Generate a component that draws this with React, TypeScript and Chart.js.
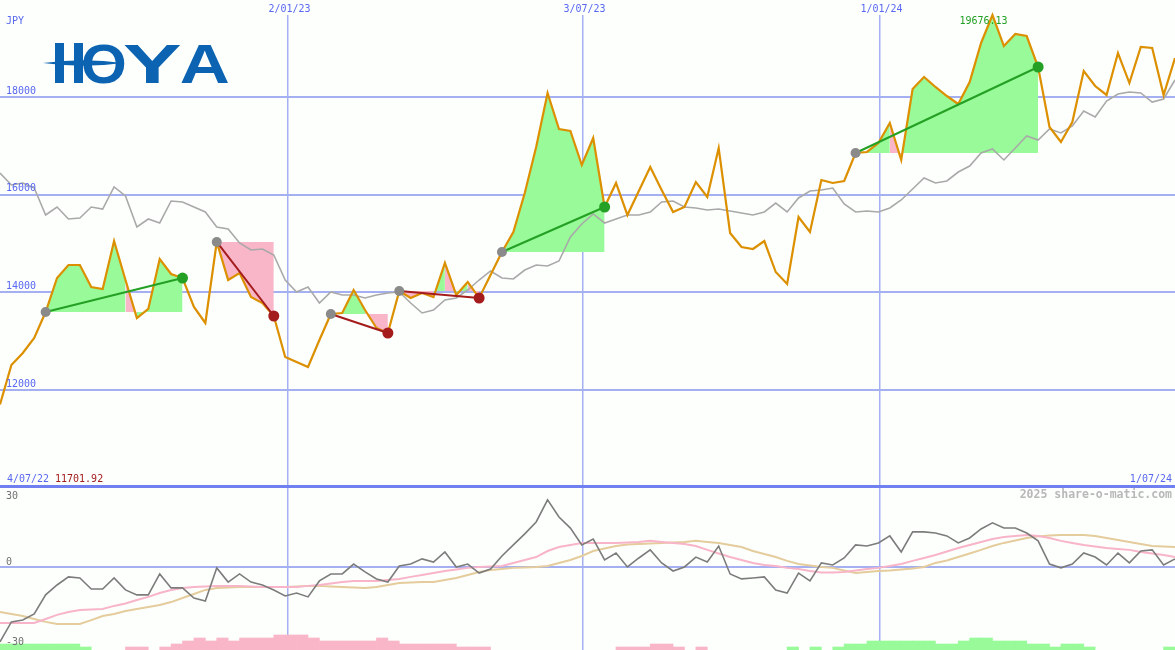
import React, { useEffect, useRef } from 'react';
import { Chart, registerables } from 'chart.js';

Chart.register(...registerables);

// ---------- data ----------
const priceValues = [
  11701.92, 12512, 12758, 13065, 13597, 14293, 14560, 14560, 14109, 14068,
  15051, 14252, 13474, 13659, 14683, 14376, 14293, 13700, 13372, 15031,
  14252, 14396, 13904, 13781, 13515, 12676, 12573, 12471, 13024, 13556,
  13577, 14048, 13638, 13270, 13167, 14027, 13884, 13986, 13904, 14601,
  13945, 14212, 13884, 14355, 14826, 15235, 16034, 16976, 18082, 17345,
  17304, 16607, 17160, 15747, 16239, 15583, 16075, 16566, 16095, 15645,
  15747, 16259, 15952, 16955, 15215, 14928, 14887, 15051, 14416, 14171,
  15543, 15235, 16300, 16239, 16280, 16853, 16874, 17058, 17467, 16710,
  18164, 18409, 18205, 18020, 17856, 18307, 19106, 19676.13, 19044, 19290,
  19249, 18614, 17385, 17078, 17488, 18532, 18225, 18041, 18901, 18286,
  19024, 19003, 18041, 18798,
];

const averageValues = [
  16444, 16198, 16239, 16136, 15583, 15747, 15502, 15522, 15747, 15706,
  16157, 15973, 15338, 15502, 15420, 15870, 15850, 15747, 15645, 15338,
  15297, 15010, 14867, 14887, 14764, 14252, 14007, 14109, 13781, 14007,
  13945, 13945, 13884, 13945, 13986, 14007, 13781, 13577, 13638, 13843,
  13884, 14048, 14252, 14437, 14293, 14273, 14457, 14560, 14539, 14642,
  15133, 15399, 15604, 15420, 15502, 15583, 15583, 15645, 15850, 15870,
  15747, 15727, 15686, 15706, 15665, 15624, 15583, 15645, 15829, 15645,
  15932, 16075, 16095, 16136, 15809, 15645, 15665, 15645, 15727, 15891,
  16116, 16341, 16239, 16280, 16464, 16587, 16853, 16935, 16710, 16955,
  17201, 17119, 17344, 17263, 17406, 17713, 17590, 17918, 18061, 18102,
  18082, 17897, 17959, 18348,
];

const momentumValues = [
  -33.3, -24.4, -23.6, -20.9, -12.4, -8.0, -4.4, -4.9, -9.8, -9.8,
  -4.9, -10.2, -12.4, -12.4, -3.1, -9.3, -9.3, -13.8, -15.1, -0.4,
  -6.7, -3.1, -6.7, -8.0, -10.2, -12.9, -11.6, -13.3, -6.2, -3.1,
  -3.1, 1.3, -2.2, -5.3, -6.7, 0.4, 1.3, 3.6, 2.2, 6.7,
  0, 1.3, -2.7, -0.9, 4.9, 9.8, 14.7, 20.0, 29.8, 22.2,
  17.3, 9.8, 12.4, 3.1, 6.2, 0, 4.0, 7.6, 1.8, -1.8,
  0, 4.4, 2.2, 9.3, -3.1, -5.3, -4.9, -4.4, -10.2, -11.6,
  -2.7, -6.2, 1.8, 0.9, 4.0, 9.8, 9.3, 10.7, 13.8, 6.7,
  15.6, 15.6, 15.1, 13.8, 10.7, 12.9, 16.9, 19.6, 17.3, 17.3,
  15.1, 11.6, 1.3, -0.4, 1.3, 6.2, 4.4, 0.9, 6.2, 1.8,
  7.1, 7.6, 0.9, 3.6,
];

const fastSignalValues = [
  -24.9, -24.9, -24.9, -24.9, -23.1, -21.3, -20.0, -19.1, -18.9, -18.7,
  -17.3, -16.2, -14.7, -13.3, -11.6, -10.2, -9.3, -8.9, -8.7, -8.4,
  -8.4, -8.4, -8.7, -8.9, -8.9, -8.9, -8.9, -8.4, -8.0, -7.3,
  -6.7, -6.2, -6.2, -6.2, -5.8, -5.3, -4.4, -3.6, -2.7, -1.8,
  -1.1, -0.4, 0, 0.2, 0.4, 1.8, 3.1, 4.4, 7.1, 8.9,
  9.8, 10.7, 10.7, 10.7, 10.7, 10.9, 11.1, 11.6, 11.1, 10.7,
  10.2, 9.3, 7.6, 6.0, 4.4, 3.1, 1.8, 0.9, 0.4, -0.4,
  -0.9, -1.8, -2.4, -2.4, -2.2, -1.6, -0.9, -0.4, 0.4, 1.3,
  2.7, 4.0, 5.3, 6.9, 8.4, 9.8, 11.1, 12.4, 13.3, 13.8,
  14.2, 13.8, 12.9, 11.6, 10.7, 9.8, 9.1, 8.4, 8.0, 7.6,
  6.7, 6.0, 5.3, 4.4,
];

const slowSignalValues = [
  -20.0, -20.9, -21.8, -23.1, -24.4, -25.3, -25.3, -25.3, -23.6, -21.8,
  -20.9, -19.6, -18.7, -17.8, -16.9, -15.6, -13.8, -12.0, -10.2, -9.3,
  -9.1, -8.9, -8.9, -8.9, -8.9, -8.9, -8.7, -8.4, -8.4, -8.7,
  -8.9, -9.1, -9.3, -8.9, -8.0, -7.1, -6.9, -6.7, -6.7, -5.8,
  -4.9, -3.6, -2.2, -1.3, -0.9, -0.4, -0.2, 0, 0.4, 1.8,
  3.1, 4.9, 7.1, 8.2, 9.3, 10.0, 10.2, 10.4, 10.7, 10.9,
  11.1, 11.6, 11.1, 10.7, 9.8, 8.9, 7.1, 5.8, 4.4, 2.7,
  1.3, 0.7, 0, -0.4, -1.6, -2.7, -2.2, -1.8, -1.6, -1.1,
  -0.7, 0, 1.8, 2.9, 4.4, 6.0, 7.6, 9.3, 10.7, 11.8,
  12.9, 13.6, 14.0, 14.2, 14.2, 14.2, 13.8, 12.9, 12.0, 11.1,
  10.2, 9.3, 9.1, 8.9,
];

const histogramValues = [
  2, 2, 2, 2, 2, 2, 2, 1, 0, 0,
  0, -1, -1, 0, -1, -2, -3, -4, -3, -4,
  -3, -4, -4, -4, -5, -5, -5, -4, -3, -3,
  -3, -3, -3, -4, -3, -2, -2, -2, -2, -2,
  -1, -1, -1, 0, 0, 0, 0, 0, 0, 0,
  0, 0, 0, 0, -1, -1, -1, -2, -2, -1,
  0, -1, 0, 0, 0, 0, 0, 0, 0, 1,
  0, 1, 0, 1, 2, 2, 3, 3, 3, 3,
  3, 3, 2, 2, 3, 4, 4, 3, 3, 3,
  2, 2, 1, 2, 2, 1, 0, 0, 0, 0,
  0, 0, 1, 0,
];

const tradeEntryIndex = [4, 19, 29, 35, 44, 75];
const tradeExitIndex = [16, 24, 34, 42, 53, 91];

const dateTickPositions = [25.2, 51.06, 77.1];
const dateTickLabels = ['2/01/23', '3/07/23', '1/01/24'];
const priceTickValues = [12000, 14000, 16000, 18000];
const momentumTickValues = [30, 0, -30];
const currencyLabel = 'JPY';
const startDateLabel = '4/07/22';
const endDateLabel = '1/07/24';
const minPriceLabel = '11701.92';
const maxPriceLabel = '19676.13';
const creditLabel = '2025 share-o-matic.com';
const logoText = 'HOYA';

// ---------- styles ----------
const BG = '#fdfffd';
const GRID = '#a4b0f2';
const SEP = '#7080f0';
const TEXT_BLUE = '#5868f0';
const ORANGE = '#dc9000';
const AVG = '#a9a9a9';
const MOM = '#7c7c7c';
const PINK_LINE = '#f8b4c8';
const TAN_LINE = '#e4cc9c';
const FILL_UP = '#98fa98';
const FILL_DOWN = '#f9b6c9';
const WIN = '#24a024';
const LOSS = '#a41c1c';
const ENTRY_DOT = '#8a8a8a';
const LOGO = '#0b63b1';
const MONO = '"DejaVu Sans Mono", monospace';

const lastIndex = priceValues.length - 1;
const toPoints = (arr: number[], offset = 0) => arr.map((v, i) => ({ x: i + offset, y: v }));

function drawLogo(ctx: CanvasRenderingContext2D) {
  ctx.save();
  ctx.fillStyle = LOGO;
  ctx.textAlign = 'left';
  ctx.textBaseline = 'alphabetic';
  // H stems
  ctx.fillRect(55, 43, 9, 40);
  ctx.fillRect(74, 43, 9, 40);
  ctx.font = 'bold 56px "Liberation Sans", Arial, sans-serif';
  const letters: [string, number, number][] = [
    [logoText[1], 83, 42],
    [logoText[2], 123, 58],
    [logoText[3], 181, 47],
  ];
  for (const [ch, left, w] of letters) {
    const m = ctx.measureText(ch);
    const inkLeft = -m.actualBoundingBoxLeft;
    const inkW = m.actualBoundingBoxRight + m.actualBoundingBoxLeft;
    const sx = w / inkW;
    ctx.save();
    ctx.translate(left, 83);
    ctx.scale(sx, 1);
    ctx.fillText(ch, -inkLeft, 0);
    ctx.restore();
  }
  // swoosh
  ctx.beginPath();
  ctx.moveTo(43, 63);
  ctx.quadraticCurveTo(84, 57.5, 123, 63);
  ctx.quadraticCurveTo(84, 68.5, 43, 63);
  ctx.closePath();
  ctx.fill();
  ctx.restore();
}

const topTextPlugin = {
  id: 'topText',
  afterDraw(chart: any) {
    const { ctx, scales } = chart;
    const x = scales.x;
    const y = scales.y;
    ctx.save();
    ctx.font = `10px ${MONO}`;
    ctx.textBaseline = 'middle';
    ctx.fillStyle = TEXT_BLUE;
    ctx.textAlign = 'left';
    ctx.fillText(currencyLabel, 6, 21);
    priceTickValues.forEach((v) => ctx.fillText(String(v), 6, y.getPixelForValue(v) - 6));
    ctx.textAlign = 'center';
    dateTickPositions.forEach((p, k) => ctx.fillText(dateTickLabels[k], x.getPixelForValue(p) + 2, 9));
    ctx.textAlign = 'left';
    ctx.fillText(startDateLabel, 7, 479);
    ctx.fillStyle = LOSS;
    ctx.fillText(minPriceLabel, 55, 479);
    ctx.fillStyle = TEXT_BLUE;
    ctx.textAlign = 'right';
    ctx.fillText(endDateLabel, 1172, 479);
    const maxIdx = priceValues.indexOf(Math.max(...priceValues));
    ctx.fillStyle = WIN;
    ctx.textAlign = 'center';
    ctx.fillText(maxPriceLabel, x.getPixelForValue(maxIdx) - 9, 21);
    // separator
    ctx.strokeStyle = SEP;
    ctx.lineWidth = 3;
    ctx.beginPath();
    ctx.moveTo(0, 486.5);
    ctx.lineTo(chart.width, 486.5);
    ctx.stroke();
    drawLogo(ctx);
    ctx.restore();
  },
};

const momentumLabelOffsets = [-3.5, -5, 7.5];

const bottomTextPlugin = {
  id: 'bottomText',
  afterDraw(chart: any) {
    const { ctx, scales } = chart;
    const y = scales.y;
    ctx.save();
    ctx.font = `10px ${MONO}`;
    ctx.textBaseline = 'middle';
    ctx.fillStyle = '#707070';
    ctx.textAlign = 'left';
    momentumTickValues.forEach((v, k) => {
      ctx.fillText(String(v), 6, y.getPixelForValue(v) + momentumLabelOffsets[k]);
    });
    ctx.font = `bold 11.5px ${MONO}`;
    ctx.fillStyle = '#b8b8b8';
    ctx.textAlign = 'right';
    ctx.fillText(creditLabel, 1172, 7);
    ctx.restore();
  },
};

const hiddenTicks = { display: false };
const noBorder = { display: false };

export default function App() {
  const topRef = useRef<HTMLCanvasElement>(null);
  const bottomRef = useRef<HTMLCanvasElement>(null);

  useEffect(() => {
    const datasetsTop: any[] = [];

    // trade fills
    tradeEntryIndex.forEach((entry, k) => {
      const exit = tradeExitIndex[k];
      const base = priceValues[entry];
      const pts = [];
      for (let i = entry; i <= exit; i++) pts.push({ x: i, y: priceValues[i] });
      datasetsTop.push({
        type: 'line',
        data: pts,
        borderWidth: 0,
        borderColor: 'rgba(0,0,0,0)',
        backgroundColor: FILL_UP,
        pointRadius: 0,
        fill: { value: base },
        segment: {
          backgroundColor: (c: any) => (priceValues[entry + c.p1DataIndex] >= base ? FILL_UP : FILL_DOWN),
        },
        order: 20,
      });
    });

    datasetsTop.push({
      type: 'line',
      data: toPoints(averageValues),
      borderColor: AVG,
      borderWidth: 1.6,
      pointRadius: 0,
      fill: false,
      order: 8,
    });
    datasetsTop.push({
      type: 'line',
      data: toPoints(priceValues),
      borderColor: ORANGE,
      borderWidth: 2.2,
      pointRadius: 0,
      fill: false,
      clip: false,
      order: 6,
    });
    tradeEntryIndex.forEach((entry, k) => {
      const exit = tradeExitIndex[k];
      const win = priceValues[exit] >= priceValues[entry];
      datasetsTop.push({
        type: 'line',
        data: [
          { x: entry, y: priceValues[entry] },
          { x: exit, y: priceValues[exit] },
        ],
        borderColor: win ? WIN : LOSS,
        borderWidth: 2,
        pointRadius: 0,
        fill: false,
        order: 4,
      });
    });
    datasetsTop.push({
      type: 'line',
      data: tradeEntryIndex.map((i) => ({ x: i, y: priceValues[i] })),
      showLine: false,
      pointRadius: 5,
      pointBorderWidth: 0,
      pointBackgroundColor: ENTRY_DOT,
      order: 2,
    });
    datasetsTop.push({
      type: 'line',
      data: tradeExitIndex.map((i) => ({ x: i, y: priceValues[i] })),
      showLine: false,
      pointRadius: 5.5,
      pointBorderWidth: 0,
      pointBackgroundColor: tradeExitIndex.map((i, k) =>
        priceValues[i] >= priceValues[tradeEntryIndex[k]] ? WIN : LOSS
      ),
      order: 1,
    });

    const top = new Chart(topRef.current as HTMLCanvasElement, {
      type: 'line',
      data: { datasets: datasetsTop },
      options: {
        responsive: false,
        animation: false,
        devicePixelRatio: 1,
        events: [],
        layout: { autoPadding: false, padding: { top: 15, left: 0, right: 0, bottom: 0 } },
        plugins: {
          legend: { display: false },
          tooltip: { enabled: false },
          filler: { drawTime: 'beforeDatasetsDraw' },
        },
        scales: {
          x: {
            type: 'linear',
            position: 'top',
            min: 0,
            max: lastIndex,
            offset: false,
            afterBuildTicks: (axis: any) => {
              axis.ticks = dateTickPositions.map((v) => ({ value: v }));
            },
            ticks: hiddenTicks,
            grid: { color: GRID, lineWidth: 1.5, drawTicks: false, offset: false },
            border: noBorder,
          },
          y: {
            type: 'linear',
            min: 9993,
            max: 19679,
            afterBuildTicks: (axis: any) => {
              axis.ticks = priceTickValues.map((v) => ({ value: v }));
            },
            ticks: hiddenTicks,
            grid: { color: GRID, lineWidth: 2, drawTicks: false },
            border: noBorder,
          },
        },
      } as any,
      plugins: [topTextPlugin],
    });

    const bottom = new Chart(bottomRef.current as HTMLCanvasElement, {
      type: 'line',
      data: {
        datasets: [
          {
            type: 'line',
            data: toPoints(momentumValues),
            borderColor: MOM,
            borderWidth: 1.6,
            pointRadius: 0,
            fill: false,
            order: 1,
          },
          {
            type: 'line',
            data: toPoints(fastSignalValues),
            borderColor: PINK_LINE,
            borderWidth: 2,
            pointRadius: 0,
            fill: false,
            order: 3,
          },
          {
            type: 'line',
            data: toPoints(slowSignalValues),
            borderColor: TAN_LINE,
            borderWidth: 2,
            pointRadius: 0,
            fill: false,
            order: 4,
          },
          {
            type: 'bar',
            yAxisID: 'yh',
            data: histogramValues
              .map((v, i) => ({ x: i + 0.5, y: v }))
              .filter((p) => p.y > 0),
            backgroundColor: FILL_UP,
            borderWidth: 0,
            barPercentage: 1,
            categoryPercentage: 1,
            grouped: false,
            order: 10,
          },
          {
            type: 'bar',
            yAxisID: 'yh',
            data: histogramValues
              .map((v, i) => ({ x: i + 0.5, y: -v }))
              .filter((p) => p.y > 0),
            backgroundColor: FILL_DOWN,
            borderWidth: 0,
            barPercentage: 1,
            categoryPercentage: 1,
            grouped: false,
            order: 10,
          },
        ],
      },
      options: {
        responsive: false,
        animation: false,
        devicePixelRatio: 1,
        events: [],
        layout: { autoPadding: false, padding: 0 },
        plugins: { legend: { display: false }, tooltip: { enabled: false } },
        scales: {
          x: {
            type: 'linear',
            min: 0,
            max: lastIndex,
            offset: false,
            afterBuildTicks: (axis: any) => {
              axis.ticks = dateTickPositions.map((v) => ({ value: v }));
            },
            ticks: hiddenTicks,
            grid: { color: GRID, lineWidth: 1.5, drawTicks: false, offset: false },
            border: noBorder,
          },
          y: {
            type: 'linear',
            min: -36.9,
            max: 35.1,
            afterBuildTicks: (axis: any) => {
              axis.ticks = [{ value: 0 }];
            },
            ticks: hiddenTicks,
            grid: { color: GRID, lineWidth: 2, drawTicks: false },
            border: noBorder,
          },
          yh: {
            type: 'linear',
            display: false,
            min: 0,
            max: 54,
          },
        },
      } as any,
      plugins: [bottomTextPlugin],
    });

    return () => {
      top.destroy();
      bottom.destroy();
    };
  }, []);

  return (
    <div
      style={{
        position: 'fixed',
        left: 0,
        top: 0,
        width: 1175,
        height: 650,
        background: BG,
        overflow: 'hidden',
      }}
    >
      <canvas ref={topRef} width={1175} height={488} style={{ display: 'block' }} />
      <canvas ref={bottomRef} width={1175} height={162} style={{ display: 'block' }} />
    </div>
  );
}
